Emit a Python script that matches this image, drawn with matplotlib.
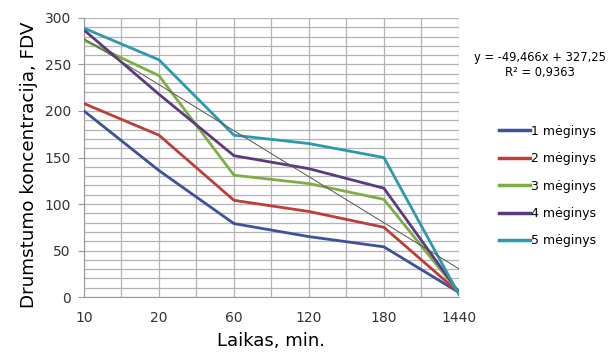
import matplotlib
matplotlib.use("Agg")
import matplotlib.pyplot as plt
import numpy as np

categories = ["10", "20", "60", "120", "180", "1440"]
s1 = [200, 136, 79, 65, 54, 5]
s2 = [208, 174, 104, 92, 75, 5]
s3 = [276, 238, 131, 122, 105, 5]
s4 = [287, 218, 152, 138, 117, 5]
s5 = [289, 255, 174, 165, 150, 3]
series_names = ["1 mėginys", "2 mėginys", "3 mėginys", "4 mėginys", "5 mėginys"]
trend_slope = -49.466
trend_intercept = 327.25
trend_label = "y = -49,466x + 327,25\nR² = 0,9363"

colors = ["#3d519c", "#bb3f38", "#7fad45", "#5c3a80", "#2c99ad"]

fig = plt.figure(figsize=(6.11, 3.52), dpi=100)
ax = fig.add_axes([0.1375, 0.156, 0.6135, 0.793])

x = np.arange(len(categories))
for vals, c, name in zip([s1, s2, s3, s4, s5], colors, series_names):
    ax.plot(x, vals, color=c, lw=2.0, label=name, solid_joinstyle="miter", zorder=3)

xt = np.array([x[0], x[-1]])
ax.plot(xt, trend_slope * (xt + 1) + trend_intercept, color="#555555", lw=0.7, zorder=4)

ax.set_xlim(0, len(categories) - 1)
ax.set_ylim(0, 300)
ax.set_xticks(x)
ax.set_xticklabels(categories)
ax.set_xticks(np.arange(0, len(categories) - 0.5, 0.5), minor=True)
ax.set_yticks(np.arange(0, 301, 50))
ax.set_yticks(np.arange(0, 301, 10), minor=True)
ax.grid(True, which="both", color="#b4b4b4", lw=0.9)
ax.set_axisbelow(True)
for s in ["top", "right"]:
    ax.spines[s].set_visible(False)
for s in ["left", "bottom"]:
    ax.spines[s].set_color("#999999")
ax.tick_params(which="minor", length=0)
ax.tick_params(axis="x", which="major", length=0)
ax.tick_params(axis="y", which="major", length=4, color="#999999")
ax.tick_params(axis="y", labelsize=10, labelcolor="#333333", pad=5.5)
ax.tick_params(axis="x", labelsize=10, labelcolor="#333333", pad=10)
ax.set_ylabel("Drumstumo koncentracija, FDV", fontsize=13.2)
ax.yaxis.set_label_coords(-0.124, 0.473)
ax.set_xlabel("Laikas, min.", fontsize=13, labelpad=5)

fig.text(0.884, 0.815, trend_label, fontsize=8.3, ha="center", va="center",
         linespacing=1.25)

leg = ax.legend(loc="upper left", bbox_to_anchor=(1.093, 0.635), frameon=False,
                fontsize=9, handlelength=2.5, handletextpad=0.05,
                labelspacing=1.15, borderaxespad=0)
for h in leg.get_lines():
    h.set_linewidth(2.5)

fig.savefig("out.png", dpi=100)
